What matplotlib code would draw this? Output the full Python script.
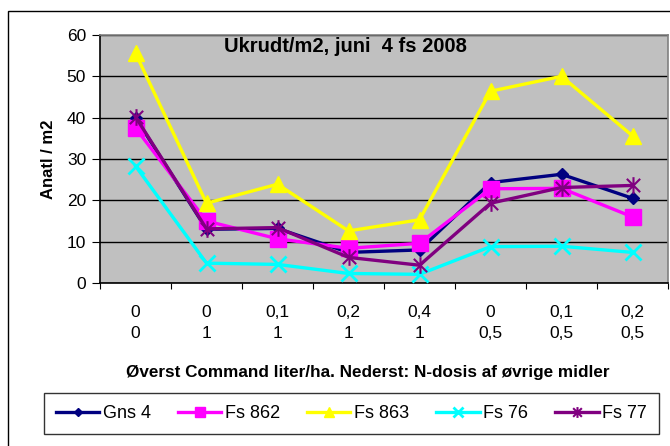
import matplotlib
matplotlib.use("Agg")
import matplotlib.pyplot as plt
from matplotlib.path import Path
from matplotlib.patches import Rectangle
import numpy as np

plt.rcParams['font.family'] = ['Liberation Sans', 'DejaVu Sans']

top_labels = ["0", "0", "0,1", "0,2", "0,4", "0", "0,1", "0,2"]
bottom_labels = ["0", "1", "1", "1", "1", "0,5", "0,5", "0,5"]

gns4 = [40.0, 13.0, 13.2, 7.4, 8.0, 24.3, 26.3, 20.5]
fs862 = [37.5, 15.0, 10.7, 8.4, 9.6, 22.8, 22.9, 16.0]
fs863 = [55.6, 19.3, 23.9, 12.6, 15.3, 46.4, 50.0, 35.6]
fs76 = [28.3, 4.8, 4.5, 2.3, 2.1, 8.8, 8.9, 7.4]
fs77 = [40.2, 13.1, 13.4, 6.2, 4.3, 19.3, 23.1, 23.6]

series_names = ["Gns 4", "Fs 862", "Fs 863", "Fs 76", "Fs 77"]

star = Path([(0, -1), (0, 1), (-0.8, -0.8), (0.8, 0.8), (-0.8, 0.8), (0.8, -0.8)],
            [Path.MOVETO, Path.LINETO, Path.MOVETO, Path.LINETO, Path.MOVETO, Path.LINETO])

fig = plt.figure(figsize=(6.70, 4.46), dpi=100)
W, H = 670, 446
fig.patches.append(Rectangle((8 / W, -0.1), 1.2, (446 - 11) / H + 0.1, transform=fig.transFigure,
                             fill=False, edgecolor='black', linewidth=1.0))

ax = fig.add_axes([100 / W, (H - 283) / H, (668 - 100) / W, (283 - 35) / H])
ax.set_facecolor('#C0C0C0')
for s in ax.spines.values():
    s.set_color('#808080')
    s.set_linewidth(1.2)
ax.spines['left'].set_color('black')
ax.spines['bottom'].set_color('black')

x = np.arange(len(top_labels))
styles = [
    (gns4, '#000080', 'D', 6, {}),
    (fs862, '#FF00FF', 's', 11, {}),
    (fs863, '#FFFF00', '^', 12, {}),
    (fs76, '#00FFFF', 'x', 12, {'markeredgewidth': 2}),
    (fs77, '#800080', star, 12, {'markeredgewidth': 1.5}),
]
handles = []
for (vals, col, mk, ms, kw), name in zip(styles, series_names):
    h, = ax.plot(x, vals, color=col, linewidth=2.4, marker=mk, markersize=ms,
                 markerfacecolor=col, markeredgecolor=col, label=name, zorder=3, **kw)
    handles.append(h)

ax.set_ylim(0, 60)
ax.set_xlim(-0.5, len(x) - 0.5)
ax.set_yticks(np.arange(0, 61, 10))
ax.yaxis.grid(True, color='black', linewidth=1.0)
ax.set_axisbelow(True)
ax.tick_params(axis='y', direction='out', length=6, labelsize=12.5, pad=4)

ax.set_xticks(np.arange(-0.5, len(x), 1.0))
ax.set_xticklabels([])
ax.tick_params(axis='x', which='major', direction='out', length=4)
ax.set_xticks(x, minor=True)
ax.set_xticklabels([f"{t}\n{b}" for t, b in zip(top_labels, bottom_labels)], minor=True,
                   fontsize=12.5, linespacing=1.5)
ax.tick_params(axis='x', which='minor', length=0, pad=16)

ax.set_ylabel("Anatl / m2", fontsize=12, fontweight='bold', labelpad=8)
ax.set_xlabel("Øverst Command liter/ha. Nederst: N-dosis af øvrige midler", fontsize=12.3,
              fontweight='bold')
ax.xaxis.set_label_coords(0.471, -0.33)

ax.text(0.432, 0.955, "Ukrudt/m2, juni  4 fs 2008", transform=ax.transAxes, ha='center', va='center',
        fontsize=14.5, fontweight='bold')

leg = fig.legend(handles=handles, loc='center', bbox_to_anchor=(351.5 / W, 1 - 413.5 / H), ncol=5,
                 frameon=True, fancybox=False, edgecolor='black', fontsize=13, handlelength=2.4,
                 handletextpad=0.2, columnspacing=1.5, borderpad=0.65, markerscale=0.65)
leg.get_frame().set_linewidth(1.0)

fig.savefig("out.png", dpi=100)
